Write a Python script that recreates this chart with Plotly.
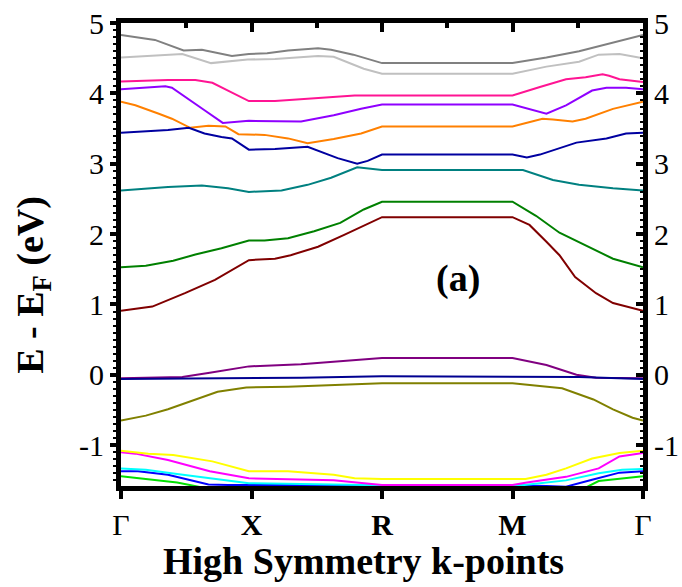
import plotly.graph_objects as go

# ---- axis labels ----
KPOINT_POS = [0, 1, 2, 3, 4]
KPOINT_LABELS = ["Γ", "<b>X</b>", "<b>R</b>", "<b>M</b>", "Γ"]
Y_TICKS = [-1, 0, 1, 2, 3, 4, 5]
Y_TICK_LABELS = ["-1", "0", "1", "2", "3", "4", "5"]
Y_RANGE = [-1.58, 5]

# ---- bands (k-path coordinate, energy in eV) ----
K_GRAY = [0, 0.26, 0.48, 0.62, 0.85, 0.98, 1.12, 1.28, 1.51, 1.61, 1.78, 2.0, 3.0, 3.26, 3.51, 3.72, 4.0]
E_GRAY = [4.83, 4.76, 4.61, 4.62, 4.53, 4.56, 4.57, 4.61, 4.64, 4.62, 4.55, 4.43, 4.43, 4.51, 4.60, 4.70, 4.83]

K_LGRAY = [0, 0.26, 0.47, 0.69, 0.97, 1.18, 1.51, 1.63, 1.86, 2.0, 3.0, 3.26, 3.51, 3.66, 3.82, 4.0]
E_LGRAY = [4.51, 4.54, 4.56, 4.43, 4.48, 4.49, 4.53, 4.52, 4.35, 4.28, 4.28, 4.38, 4.45, 4.55, 4.56, 4.50]

K_PINK = [0, 0.36, 0.57, 0.70, 0.82, 0.98, 1.18, 1.43, 1.79, 2.0, 3.0, 3.21, 3.41, 3.56, 3.69, 3.74, 3.82, 4.0]
E_PINK = [4.17, 4.19, 4.19, 4.15, 4.04, 3.89, 3.89, 3.92, 3.97, 3.97, 3.97, 4.09, 4.20, 4.23, 4.27, 4.25, 4.20, 4.16]

K_VIOLET = [0, 0.34, 0.39, 0.52, 0.64, 0.78, 0.98, 1.38, 1.63, 1.84, 2.0, 3.0, 3.26, 3.41, 3.61, 3.72, 3.87, 4.0]
E_VIOLET = [4.06, 4.10, 4.08, 3.92, 3.76, 3.58, 3.61, 3.60, 3.69, 3.78, 3.84, 3.84, 3.71, 3.83, 4.04, 4.08, 4.08, 4.06]

K_ORANGE = [0, 0.11, 0.29, 0.39, 0.53, 0.67, 0.80, 0.90, 1.10, 1.28, 1.43, 1.63, 1.84, 2.0, 3.0, 3.23, 3.31, 3.46, 3.56, 3.77, 4.0]
E_ORANGE = [3.88, 3.83, 3.71, 3.64, 3.51, 3.54, 3.53, 3.42, 3.41, 3.36, 3.29, 3.35, 3.43, 3.53, 3.53, 3.64, 3.63, 3.60, 3.64, 3.78, 3.88]

K_NAVY = [0, 0.36, 0.52, 0.64, 0.77, 0.85, 0.98, 1.18, 1.43, 1.53, 1.66, 1.81, 1.89, 2.0, 3.0, 3.11, 3.21, 3.49, 3.72, 3.87, 4.0]
E_NAVY = [3.44, 3.48, 3.51, 3.43, 3.38, 3.36, 3.20, 3.21, 3.24, 3.17, 3.08, 3.00, 3.04, 3.13, 3.13, 3.09, 3.13, 3.30, 3.36, 3.43, 3.44]

K_TEAL = [0, 0.36, 0.62, 0.82, 0.98, 1.23, 1.43, 1.61, 1.81, 2.0, 3.08, 3.31, 3.51, 3.77, 4.0]
E_TEAL = [2.62, 2.67, 2.69, 2.65, 2.60, 2.62, 2.70, 2.80, 2.95, 2.91, 2.91, 2.77, 2.70, 2.65, 2.62]

K_GREEN = [0, 0.19, 0.40, 0.57, 0.77, 0.98, 1.10, 1.28, 1.48, 1.68, 1.86, 2.0, 3.0, 3.18, 3.36, 3.56, 3.77, 4.0]
E_GREEN = [1.53, 1.55, 1.62, 1.71, 1.80, 1.91, 1.91, 1.94, 2.04, 2.16, 2.35, 2.46, 2.46, 2.26, 2.02, 1.84, 1.65, 1.53]

K_DRED = [0, 0.24, 0.49, 0.72, 0.98, 1.18, 1.30, 1.51, 1.71, 2.0, 3.0, 3.13, 3.26, 3.36, 3.48, 3.64, 3.77, 4.0]
E_DRED = [0.91, 0.97, 1.16, 1.35, 1.63, 1.65, 1.70, 1.82, 1.99, 2.24, 2.24, 2.13, 1.89, 1.70, 1.39, 1.16, 1.02, 0.91]

K_PURPLE = [0, 0.47, 0.68, 0.98, 1.38, 2.0, 3.0, 3.26, 3.49, 3.64, 4.0]
E_PURPLE = [-0.05, -0.03, 0.03, 0.12, 0.15, 0.24, 0.24, 0.14, 0.00, -0.04, -0.05]

K_NAVY2 = [0, 0.71, 1.38, 2.0, 3.1, 3.51, 4.0]
E_NAVY2 = [-0.06, -0.05, -0.04, -0.02, -0.02, -0.03, -0.06]

K_OLIVE = [0, 0.19, 0.36, 0.57, 0.74, 0.96, 1.28, 2.0, 3.0, 3.38, 3.62, 3.77, 3.92, 4.0]
E_OLIVE = [-0.65, -0.58, -0.49, -0.35, -0.24, -0.18, -0.17, -0.12, -0.12, -0.19, -0.35, -0.49, -0.61, -0.65]

K_YELLOW = [0, 0.21, 0.40, 0.70, 0.98, 1.28, 1.63, 1.79, 2.0, 3.1, 3.26, 3.41, 3.61, 3.82, 4.0]
E_YELLOW = [-1.08, -1.12, -1.14, -1.23, -1.37, -1.37, -1.42, -1.47, -1.48, -1.48, -1.42, -1.33, -1.19, -1.11, -1.08]

K_MAGENTA = [0, 0.11, 0.36, 0.68, 0.98, 1.38, 1.63, 2.0, 3.0, 3.11, 3.41, 3.66, 3.82, 4.0]
E_MAGENTA = [-1.10, -1.12, -1.21, -1.37, -1.47, -1.49, -1.50, -1.565, -1.565, -1.53, -1.45, -1.33, -1.16, -1.11]

K_CYAN = [0, 0.19, 0.43, 0.70, 0.98, 1.38, 1.79, 2.0, 3.07, 3.21, 3.41, 3.66, 3.84, 4.0]
E_CYAN = [-1.33, -1.35, -1.41, -1.47, -1.54, -1.55, -1.56, -1.57, -1.57, -1.54, -1.50, -1.40, -1.35, -1.34]

K_BLUE = [0, 0.13, 0.36, 0.52, 0.67, 0.82, 1.0, 2.0, 3.0, 3.26, 3.41, 3.61, 3.82, 4.0]
E_BLUE = [-1.37, -1.37, -1.42, -1.49, -1.56, -1.565, -1.565, -1.57, -1.57, -1.58, -1.59, -1.49, -1.39, -1.37]

K_LIME = [0, 0.21, 0.43, 0.62, 1.0, 2.0, 3.0, 3.51, 3.66, 3.87, 4.0]
E_LIME = [-1.44, -1.48, -1.53, -1.60, -1.65, -1.65, -1.65, -1.65, -1.51, -1.47, -1.44]

BANDS = [
    (K_GRAY, E_GRAY, "#808080"),
    (K_LGRAY, E_LGRAY, "#c0c0c0"),
    (K_PINK, E_PINK, "#ff1493"),
    (K_VIOLET, E_VIOLET, "#8f00ff"),
    (K_ORANGE, E_ORANGE, "#ff8000"),
    (K_NAVY, E_NAVY, "#0000a0"),
    (K_TEAL, E_TEAL, "#008080"),
    (K_GREEN, E_GREEN, "#008000"),
    (K_DRED, E_DRED, "#800000"),
    (K_PURPLE, E_PURPLE, "#800080"),
    (K_NAVY2, E_NAVY2, "#000090"),
    (K_OLIVE, E_OLIVE, "#808000"),
    (K_LIME, E_LIME, "#00e000"),
    (K_BLUE, E_BLUE, "#0000ff"),
    (K_CYAN, E_CYAN, "#00ffff"),
    (K_MAGENTA, E_MAGENTA, "#ff00ff"),
    (K_YELLOW, E_YELLOW, "#ffff00"),
]

FONT = "Liberation Serif"

fig = go.Figure()
for k, e, c in BANDS:
    fig.add_trace(go.Scatter(x=k, y=e, mode="lines",
                             line=dict(color=c, width=2),
                             showlegend=False, hoverinfo="skip"))

# dummy trace for the top / right axes
fig.add_trace(go.Scatter(x=[0, 4], y=Y_RANGE, xaxis="x2", yaxis="y2", mode="markers",
                         marker=dict(opacity=0), showlegend=False, hoverinfo="skip"))

fig.update_layout(
    width=682, height=587,
    margin=dict(l=121, r=39, t=23, b=101),
    paper_bgcolor="white", plot_bgcolor="white",
    font=dict(family=FONT, color="black"),
    xaxis=dict(range=[0, 4], tickvals=KPOINT_POS, ticktext=KPOINT_LABELS, automargin=False,
               showline=True, linewidth=5, linecolor="black", showgrid=False, zeroline=False,
               ticks="outside", ticklen=8, tickwidth=4, tickcolor="black",
               tickfont=dict(size=30, family=FONT, color="black")),
    xaxis2=dict(range=[0, 4], overlaying="x", side="top", tickvals=KPOINT_POS, automargin=False,
                showline=True, linewidth=5, linecolor="black", showgrid=False, zeroline=False,
                ticks="inside", ticklen=9, tickwidth=4, tickcolor="black", showticklabels=False,
                minor=dict(tickvals=[0.5, 1.5, 2.5, 3.5], ticks="inside", ticklen=5, tickwidth=4,
                           tickcolor="black", showgrid=False)),
    yaxis=dict(range=Y_RANGE, tickvals=Y_TICKS, ticktext=Y_TICK_LABELS, automargin=False,
               showline=True, linewidth=5, linecolor="black", showgrid=False, zeroline=False,
               ticks="outside", ticklen=6, tickwidth=4, tickcolor="black",
               tickfont=dict(size=30, family=FONT, color="black"),
               minor=dict(dtick=0.1, tick0=0, ticks="outside", ticklen=3, tickwidth=2,
                          tickcolor="black", showgrid=False)),
    yaxis2=dict(range=Y_RANGE, overlaying="y", side="right", tickvals=Y_TICKS,
                ticktext=Y_TICK_LABELS, automargin=False,
                showline=True, linewidth=5, linecolor="black", showgrid=False, zeroline=False,
                ticks="inside", ticklen=7, tickwidth=4, tickcolor="black",
                tickfont=dict(size=30, family=FONT, color="black"),
                minor=dict(dtick=0.1, tick0=0, ticks="inside", ticklen=3, tickwidth=2,
                           tickcolor="black", showgrid=False)),
    annotations=[
        dict(text="<b>E - E<sub>F</sub> (eV)</b>", xref="paper", yref="paper",
             x=-0.169, y=0.434, xanchor="center", yanchor="middle", textangle=-90,
             showarrow=False, font=dict(size=38, family=FONT, color="black")),
        dict(text="<b>High Symmetry k-points</b>", xref="paper", yref="paper",
             x=0.4645, y=-0.162, xanchor="center", yanchor="middle",
             showarrow=False, font=dict(size=38, family=FONT, color="black")),
        dict(text="<b>(a)</b>", xref="paper", yref="paper",
             x=0.645, y=0.449, xanchor="center", yanchor="middle",
             showarrow=False, font=dict(size=38, family=FONT, color="black")),
    ],
)

fig.write_html("out.html")
